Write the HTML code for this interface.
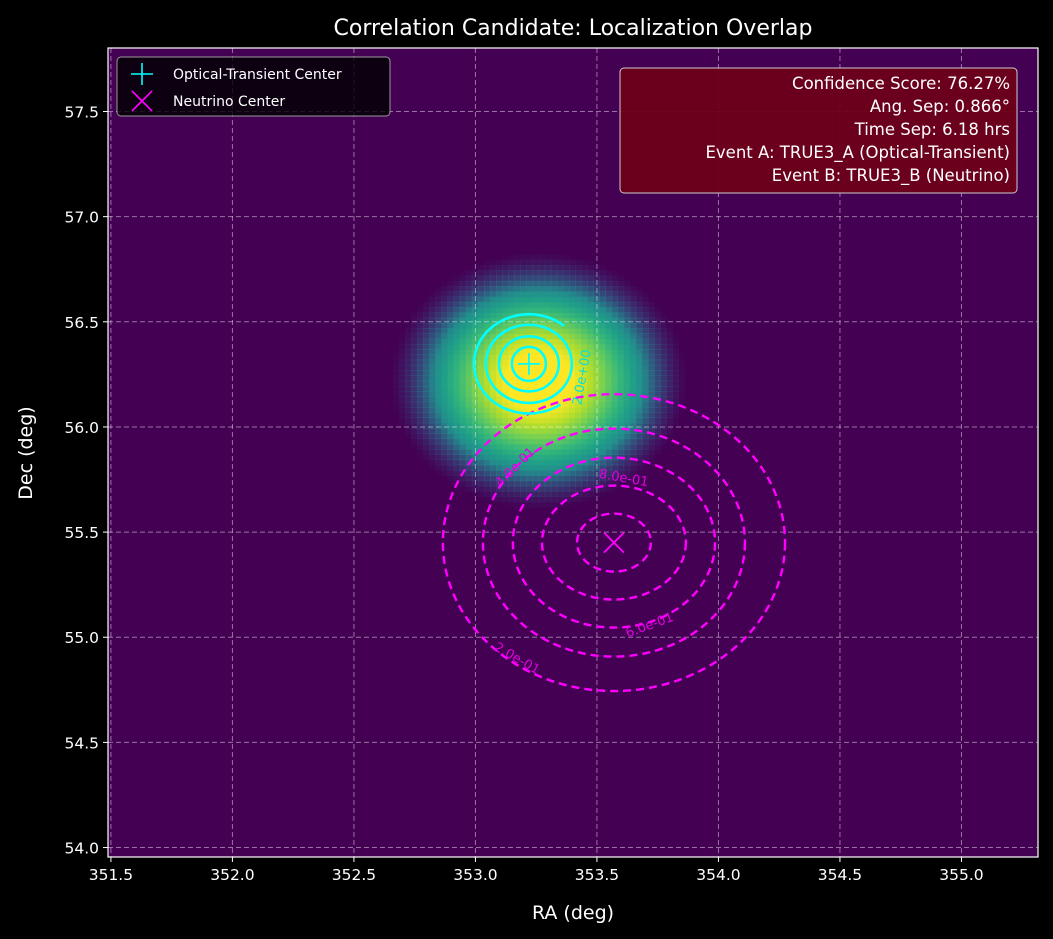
<!DOCTYPE html>
<html><head><meta charset="utf-8">
<style>
html,body{margin:0;padding:0;background:#000;}
svg{display:block;font-family:"DejaVu Sans","Liberation Sans",sans-serif;}
</style></head>
<body>
<svg id="chart" width="1053" height="939" xmlns="http://www.w3.org/2000/svg">
<rect x="0" y="0" width="1053" height="939" fill="#000"/>
<text x="573" y="35" fill="#fff" font-size="22" text-anchor="middle">Correlation Candidate: Localization Overlap</text>
<rect x="108" y="48" width="930" height="809" fill="#440154"/>
<g id="heat"></g>
<g id="grid"></g>
<g id="contours"></g>
<g id="axes"></g>
<rect x="108" y="48" width="930" height="809" fill="none" stroke="#fff" stroke-width="1.2"/>
<text x="573" y="919" fill="#fff" font-size="19" text-anchor="middle">RA (deg)</text>
<text transform="translate(32,453) rotate(-90)" fill="#fff" font-size="19" text-anchor="middle">Dec (deg)</text>
<g>
<rect x="117" y="57" width="273" height="59" rx="4" fill="#000" fill-opacity="0.8" stroke="#999" stroke-width="1"/>
<g>
<path d="M131 74 H153 M142 63 V85" stroke="#0ff" stroke-width="1.6"/>
<text x="173" y="79" fill="#fff" font-size="14">Optical-Transient Center</text></g>
<g>
<path d="M132 91 L152 111 M152 91 L132 111" stroke="#f0f" stroke-width="1.6"/>
<text x="173" y="106" fill="#fff" font-size="14">Neutrino Center</text></g>
</g>
<g>
<rect x="620" y="68" width="397" height="125" rx="4" fill="#6e0019" fill-opacity="0.95" stroke="#ccc" stroke-width="1"/>
<g fill="#fff" font-size="16.5" text-anchor="end">
<text x="1010" y="89">Confidence Score: 76.27%</text>
<text x="1010" y="112">Ang. Sep: 0.866°</text>
<text x="1010" y="135">Time Sep: 6.18 hrs</text>
<text x="1010" y="158">Event A: TRUE3_A (Optical-Transient)</text>
<text x="1010" y="181">Event B: TRUE3_B (Neutrino)</text>
</g></g>
</svg>
<script>
const NS="http://www.w3.org/2000/svg";
const xTicks=[351.5,352.0,352.5,353.0,353.5,354.0,354.5,355.0];
const yTicks=[54.0,54.5,55.0,55.5,56.0,56.5,57.0,57.5];
const opticalCenter=[353.22,56.30];
const neutrinoCenter=[353.57,55.45];
const heatCenter=[353.26,56.22];
const heatSigma=0.34;
const heatCutoff=0.2;
// neutrino contour half-widths (deg RA, deg Dec)
const nuRa=[0.704,0.539,0.416,0.296,0.152];
const nuDec=[0.706,0.542,0.404,0.271,0.138];
// optical contour half-widths (deg RA, deg Dec)
const optRa=[0.070,0.123,0.177,0.226];
const optDec=[0.081,0.131,0.186,0.236];
const nuLabels=["2.0e-01","4.0e-01","6.0e-01","8.0e-01"];
const X0=108,X1=1038,Y0=48,Y1=857,RA0=351.488,RA1=355.315,D0=53.955,D1=57.802;
const sx=v=>X0+(v-RA0)/(RA1-RA0)*(X1-X0);
const sy=v=>Y1-(v-D0)/(D1-D0)*(Y1-Y0);
const kx=(X1-X0)/(RA1-RA0), ky=(Y1-Y0)/(D1-D0);
function mk(t,a,p){const e=document.createElementNS(NS,t);for(const k in a)e.setAttribute(k,a[k]);(p||document.getElementById('chart')).appendChild(e);return e;}
function viridis(t){const c=[[68,1,84],[72,40,120],[62,74,137],[49,104,142],[38,130,142],[31,158,137],[53,183,121],[110,206,88],[181,222,43],[253,231,37]];
 t=Math.max(0,Math.min(1,t))*9;const i=Math.min(8,Math.floor(t)),f=t-i;return `rgb(${c[i].map((v,j)=>Math.round(v+(c[i+1][j]-v)*f)).join(',')})`;}
// heatmap
const heat=document.getElementById('heat');const cell=0.025;
for(let ra=heatCenter[0]-0.75;ra<heatCenter[0]+0.75;ra+=cell){for(let de=heatCenter[1]-0.75;de<heatCenter[1]+0.75;de+=cell){
 const r2=((ra+cell/2-heatCenter[0])**2+(de+cell/2-heatCenter[1])**2);const v=Math.exp(-r2/(2*heatSigma*heatSigma));
 if(v<heatCutoff)continue;
 const op=Math.min(1,(v-heatCutoff)/0.25);
 const r=mk('rect',{x:sx(ra),y:sy(de+cell),width:cell*kx+0.6,height:cell*ky+0.6,fill:viridis(v*1.08),'fill-opacity':op.toFixed(3)},heat);
 
 }}
// grid & ticks
const grid=document.getElementById('grid'),axes=document.getElementById('axes');
xTicks.forEach(t=>{const x=sx(t);
 const g=mk('line',{x1:x,x2:x,y1:Y0,y2:Y1,stroke:'#fff','stroke-opacity':0.45,'stroke-dasharray':'5 3'},grid);
 
 mk('line',{x1:x,x2:x,y1:Y1,y2:Y1+5,stroke:'#fff'},axes);
 const l=mk('text',{x:x,y:Y1+23,fill:'#fff','font-size':15.5,'text-anchor':'middle'},axes);l.textContent=t.toFixed(1);
 });
yTicks.forEach(t=>{const y=sy(t);
 const g=mk('line',{x1:X0,x2:X1,y1:y,y2:y,stroke:'#fff','stroke-opacity':0.45,'stroke-dasharray':'5 3'},grid);
 
 mk('line',{x1:X0-5,x2:X0,y1:y,y2:y,stroke:'#fff'},axes);
 const l=mk('text',{x:X0-9,y:y+6,fill:'#fff','font-size':15.5,'text-anchor':'end'},axes);l.textContent=t.toFixed(1);
 });
// contours
const con=document.getElementById('contours');
const ncx=sx(neutrinoCenter[0]),ncy=sy(neutrinoCenter[1]);
nuRa.forEach((r,i)=>{const e=mk('ellipse',{cx:ncx,cy:ncy,rx:r*kx,ry:nuDec[i]*ky,fill:'none',stroke:'#f0f','stroke-width':2.4,'stroke-dasharray':'8 5'},con);
 });
const ocx=sx(opticalCenter[0]),ocy=sy(opticalCenter[1]);
optRa.forEach((r,i)=>{const rx=r*kx,ry=optDec[i]*ky;let e;
 if(i<optRa.length-1){e=mk('ellipse',{cx:ocx,cy:ocy,rx:rx,ry:ry,fill:'none',stroke:'#0ff','stroke-width':2.6},con);}
 else{const a0=-50*Math.PI/180,a1=55*Math.PI/180;
  const p0=[ocx+rx*Math.cos(a0),ocy+ry*Math.sin(a0)],p1=[ocx+rx*Math.cos(a1),ocy+ry*Math.sin(a1)];
  e=mk('path',{d:`M${p0[0]} ${p0[1]} A${rx} ${ry} 0 1 0 ${p1[0]} ${p1[1]}`,fill:'none',stroke:'#0ff','stroke-width':2.6},con);}
 });
const labs=[[nuLabels[0],515,662,30],[nuLabels[1],518,470,-45],[nuLabels[2],651,629,-20],[nuLabels[3],623,482,10]];
labs.forEach(l=>{const t=mk('text',{x:l[1],y:l[2],fill:'#e000e0','font-size':13,'text-anchor':'middle',transform:`rotate(${l[3]} ${l[1]} ${l[2]})`},con);t.textContent=l[0];
 });
const cl=mk('text',{x:586,y:378,fill:'#00e0e0','font-size':13,'text-anchor':'middle',transform:'rotate(-80 586 378)'},con);cl.textContent='2.0e+00';

const om=mk('path',{d:`M${ocx-11} ${ocy} H${ocx+11} M${ocx} ${ocy-11} V${ocy+11}`,stroke:'#0ff','stroke-width':1.8},con);

const nm=mk('path',{d:`M${ncx-10} ${ncy-10} L${ncx+10} ${ncy+10} M${ncx+10} ${ncy-10} L${ncx-10} ${ncy+10}`,stroke:'#f0f','stroke-width':1.8},con);

</script>
</body></html>
